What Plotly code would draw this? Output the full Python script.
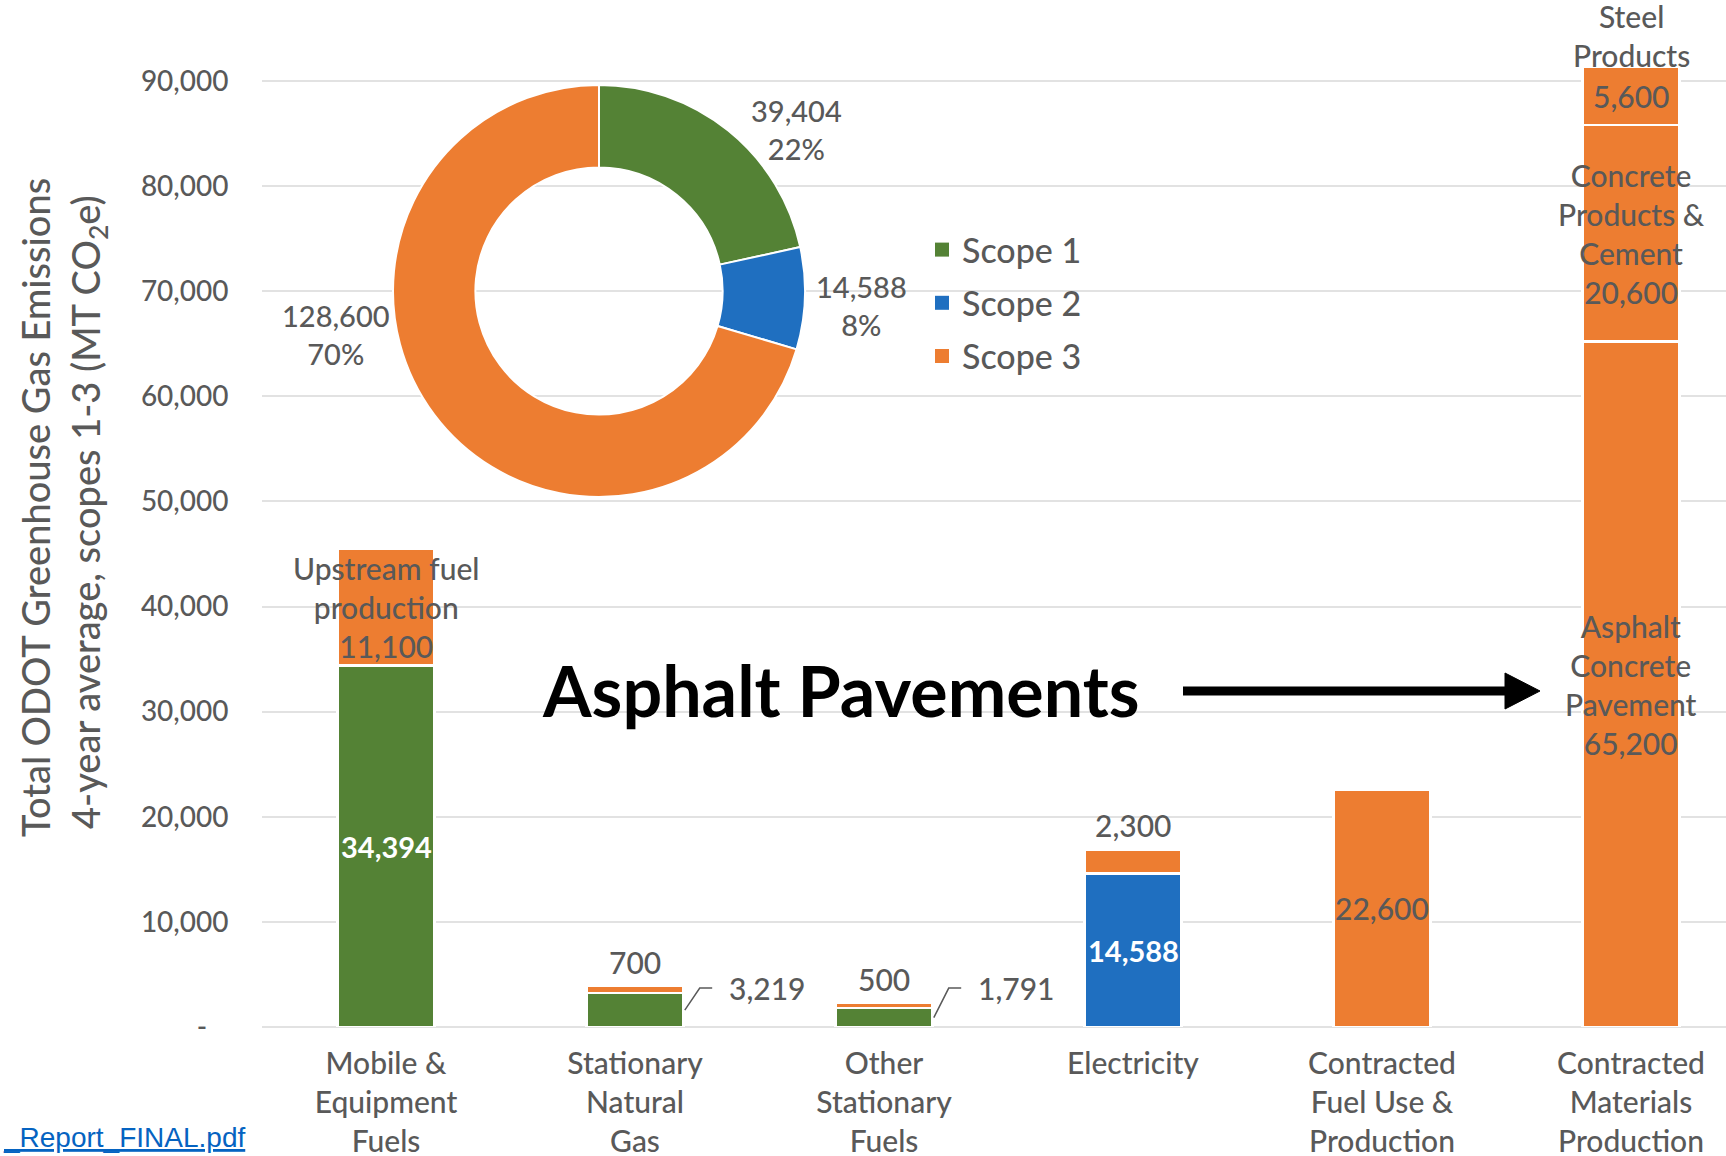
import plotly.graph_objects as go

W, H = 1726, 1156

# ---------------- data ----------------
categories = ["Mobile &<br>Equipment<br>Fuels", "Stationary<br>Natural<br>Gas",
              "Other<br>Stationary<br>Fuels", "Electricity",
              "Contracted<br>Fuel Use &<br>Production",
              "Contracted<br>Materials<br>Production"]
scope1 = [34394, 3219, 1791, None, None, None]
scope2 = [None, None, None, 14588, None, None]
scope3_main = [11100, 700, 500, 2300, 22600, 65200]   # upstream fuel / fuel / asphalt
scope3_concrete = [None, None, None, None, None, 20600]
scope3_steel = [None, None, None, None, None, 5600]
scope_names = ["Scope 1", "Scope 2", "Scope 3"]
y_tickvals = [0, 10000, 20000, 30000, 40000, 50000, 60000, 70000, 80000, 90000]
y_ticktext = ["-\u00a0\u00a0\u00a0", "10,000", "20,000", "30,000", "40,000", "50,000",
              "60,000", "70,000", "80,000", "90,000"]

GREEN, BLUE, ORANGE = "#548235", "#1f6fc0", "#ed7d31"
GRAY = "#595959"
FONT = "Lato"
WT = 500

def n(v):
    return 0 if v is None else v

scope_totals = [sum(n(v) for v in scope1), sum(n(v) for v in scope2),
                sum(n(v) for v in scope3_main) + sum(n(v) for v in scope3_concrete)
                + sum(n(v) for v in scope3_steel)]

def px(x):
    return x / W

def py(y):
    return 1 - y / H

x = list(range(len(categories)))
BW = 0.39
fig = go.Figure()
line = dict(color="white", width=2.5)
for vals, col in [(scope1, GREEN), (scope2, BLUE), (scope3_main, ORANGE),
                  (scope3_concrete, ORANGE), (scope3_steel, ORANGE)]:
    fig.add_trace(go.Bar(x=x, y=vals, marker=dict(color=col, line=line), width=BW,
                         showlegend=False))

# legend entries
for i, (nm, col) in enumerate(zip(scope_names, [GREEN, BLUE, ORANGE])):
    fig.add_trace(go.Scatter(x=[None], y=[None], mode="markers", name=nm,
                             marker=dict(symbol="square", size=14, color=col),
                             legendgroup=str(i)))

# donut
cx, cy, R = 599, 291, 206
fig.add_trace(go.Pie(values=scope_totals, labels=scope_names, hole=0.6, sort=False,
                     direction="clockwise", rotation=0, textinfo="none", showlegend=False,
                     marker=dict(colors=[GREEN, BLUE, ORANGE], line=dict(color="white", width=2)),
                     domain=dict(x=[px(cx - R), px(cx + R)], y=[py(cy + R), py(cy - R)])))

ann = []
def lab(xv, yv, text, color=GRAY, size=30, bold=False, **kw):
    d = dict(x=xv, y=yv, xref="x", yref="y", text=text, showarrow=False,
             font=dict(family=FONT, size=size, color=color,
                       weight="bold" if bold else WT))
    d.setdefault("xanchor", "center")
    d.setdefault("yanchor", "middle")
    d.update(kw)
    ann.append(d)

fmt = lambda v: f"{v:,}"
# Mobile
lab(0, scope1[0] / 2, fmt(scope1[0]), color="white", bold=True, size=29)
lab(0, scope1[0] + scope3_main[0] / 2, "Upstream fuel<br>production<br>" + fmt(scope3_main[0]))
# small stationary bars
for i in (1, 2):
    tot = scope1[i] + scope3_main[i]
    lab(i, tot, fmt(scope3_main[i]), yanchor="bottom", yshift=4)
    lab(i + 0.37, 3700, fmt(scope1[i]), xanchor="left")
# Electricity
lab(3, scope2[3] / 2, fmt(scope2[3]), color="white", bold=True, size=29)
lab(3, scope2[3] + scope3_main[3], fmt(scope3_main[3]), yanchor="bottom", yshift=4)
# Contracted fuel
lab(4, scope3_main[4] / 2, fmt(scope3_main[4]))
# Materials
lab(5, scope3_main[5] / 2, "Asphalt<br>Concrete<br>Pavement<br>" + fmt(scope3_main[5]))
lab(5, scope3_main[5] + scope3_concrete[5] / 2,
    "Concrete<br>Products &<br>Cement<br>" + fmt(scope3_concrete[5]))
top5 = scope3_main[5] + scope3_concrete[5] + scope3_steel[5]
lab(5, top5 - scope3_steel[5] / 2, fmt(scope3_steel[5]))
lab(5, top5, "Steel<br>Products", yanchor="bottom", yshift=-9)

# leader lines for the small bars
shapes = []
for i in (1, 2):
    shapes.append(dict(type="path", xref="x", yref="y",
                       path=f"M {i + BW/2 + 0.005},{scope1[i]/2} L {i + 0.26},3700 L {i + 0.31},3700",
                       line=dict(color=GRAY, width=1.5)))

def pann(xp, yp, text, size, color=GRAY, weight=WT, **kw):
    d = dict(x=px(xp), y=py(yp), xref="paper", yref="paper", showarrow=False, text=text,
             xanchor="center", yanchor="middle",
             font=dict(family=FONT, size=size, color=color, weight=weight))
    d.update(kw)
    ann.append(d)

# donut labels
total = sum(scope_totals)
pct = [round(100 * v / total) for v in scope_totals]
for (lx, ly), v, p in zip([(796, 129), (861, 305), (336, 334)], scope_totals, pct):
    pann(lx, ly, f"{fmt(v)}<br>{p}%", 29)

# axis title (two lines)
pann(35, 508, "Total ODOT Greenhouse Gas Emissions", 38, textangle=-90)
pann(88, 512, "4-year average, scopes 1-3 (MT CO<sub>2</sub>e)", 38, textangle=-90)

# callout
pann(841, 690, "Asphalt Pavements", 70, color="black", weight="bold")
shapes.append(dict(type="line", xref="paper", yref="paper", x0=px(1183), x1=px(1512),
                   y0=py(691), y1=py(691), line=dict(color="black", width=9)))
shapes.append(dict(type="path", xref="paper", yref="paper",
                   path=f"M {px(1505)},{py(673)} L {px(1540)},{py(691)} L {px(1505)},{py(709)} Z",
                   fillcolor="black", line=dict(color="black", width=1)))

# link text at bottom left
ann.append(dict(x=px(1), y=py(1137), xref="paper", yref="paper", showarrow=False, xanchor="left",
                yanchor="middle", text="<u>_Report_FINAL.pdf</u>",
                font=dict(family="Liberation Sans", size=28, color="#0563c1")))

y0pix, ppu = 1027, 946 / 90000
fig.update_layout(
    width=W, height=H, margin=dict(l=0, r=0, t=0, b=0, autoexpand=False),
    paper_bgcolor="white", plot_bgcolor="white", barmode="stack",
    font=dict(family=FONT, color=GRAY),
    xaxis=dict(domain=[px(261.5), 1], range=[-0.5, (W - 261.5) / 249 - 0.5], automargin=False,
               tickvals=x, ticktext=categories, showgrid=False, zeroline=False, showline=False,
               tickfont=dict(family=FONT, size=30, color=GRAY, weight=WT), ticks="",
               ticklabelstandoff=16),
    yaxis=dict(domain=[1 - y0pix / H, 1], range=[0, y0pix / ppu], automargin=False,
               tickvals=y_tickvals, ticktext=y_ticktext, showgrid=True, gridcolor="#e2e2e2",
               gridwidth=2, zeroline=True, zerolinecolor="#e2e2e2", zerolinewidth=2,
               tickfont=dict(family=FONT, size=28, color=GRAY, weight=WT), ticks="",
               ticklabelstandoff=32),
    legend=dict(x=px(922), y=py(303), xanchor="left", yanchor="middle",
                font=dict(family=FONT, size=34, color=GRAY, weight=WT), traceorder="grouped",
                tracegroupgap=6, bgcolor="rgba(0,0,0,0)"),
    annotations=ann, shapes=shapes, showlegend=True,
)

fig.write_html("out.html")
